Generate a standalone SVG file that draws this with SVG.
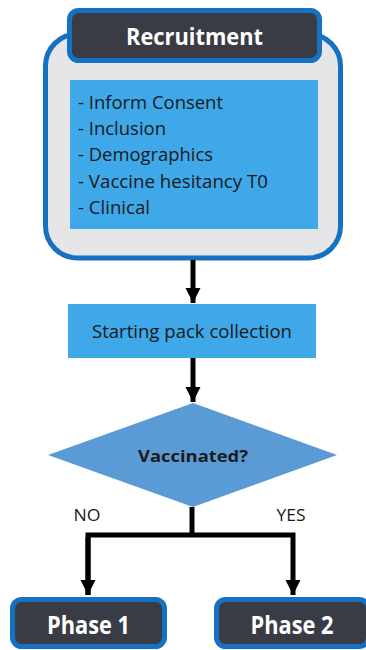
<svg xmlns="http://www.w3.org/2000/svg" width="366" height="650" viewBox="0 0 366 650">
<style>
.outer{fill:#e6e6e8;stroke:#1671c1;stroke-width:5}
.dark{fill:#393c44;stroke:#1671c1;stroke-width:5}
.lb{fill:#3ea8e9}
.dia{fill:#5b9bd5}
.t{font-family:"Open Sans","Noto Sans",sans-serif;fill:#1a1a1a}
.w{font-family:"Open Sans","Noto Sans",sans-serif;fill:#ffffff;font-weight:bold}
.ln{fill:none;stroke:#000;stroke-width:5}
</style>
<defs>
<marker id="ah" viewBox="0 0 10 10" refX="10" refY="5" markerWidth="3" markerHeight="3.2" orient="auto" markerUnits="strokeWidth">
<path d="M0,0 L10,5 L0,10 z" fill="#000"/>
</marker>
</defs>
<g id="recruitment">
<rect class="outer" x="45.5" y="34" width="295" height="224" rx="32"/>
<rect class="dark" x="69.5" y="10.5" width="250" height="50" rx="9"/>
<text class="w" x="194.5" y="45" font-size="24" text-anchor="middle" textLength="137" lengthAdjust="spacingAndGlyphs">Recruitment</text>
<rect class="lb" x="70" y="80" width="248" height="149"/>
<text class="t" font-size="18.5">
<tspan x="78" y="108.5" textLength="145" lengthAdjust="spacingAndGlyphs">- Inform Consent</tspan>
<tspan x="78" y="135" textLength="88" lengthAdjust="spacingAndGlyphs">- Inclusion</tspan>
<tspan x="78" y="161" textLength="135" lengthAdjust="spacingAndGlyphs">- Demographics</tspan>
<tspan x="78" y="187.5" textLength="190" lengthAdjust="spacingAndGlyphs">- Vaccine hesitancy T0</tspan>
<tspan x="78" y="213.5" textLength="72" lengthAdjust="spacingAndGlyphs">- Clinical</tspan>
</text>
</g>
<g id="starting">
<rect class="lb" x="68" y="304" width="248" height="54"/>
<text class="t" x="192" y="338" font-size="18.5" text-anchor="middle" textLength="200" lengthAdjust="spacingAndGlyphs">Starting pack collection</text>
</g>
<g id="vaccinated">
<polygon class="dia" points="193,403 337,455 193,507 48,455"/>
<text class="t" x="193" y="462" font-size="16.5" font-weight="bold" text-anchor="middle" textLength="110" lengthAdjust="spacingAndGlyphs">Vaccinated?</text>
</g>
<g id="phase1">
<rect class="dark" x="12.5" y="599.5" width="152" height="47" rx="9"/>
<text class="w" x="88.5" y="633.5" font-size="25" text-anchor="middle" textLength="83" lengthAdjust="spacingAndGlyphs">Phase 1</text>
</g>
<g id="phase2">
<rect class="dark" x="216.5" y="599.5" width="152" height="47" rx="9"/>
<text class="w" x="292" y="633.5" font-size="25" text-anchor="middle" textLength="83" lengthAdjust="spacingAndGlyphs">Phase 2</text>
</g>
<g id="connectors">
<line class="ln" x1="193" y1="260" x2="193" y2="303" marker-end="url(#ah)"/>
<line class="ln" x1="193" y1="358" x2="193" y2="402" marker-end="url(#ah)"/>
<polyline class="ln" points="192,507 192,535"/>
<polyline class="ln" points="88,595 88,535 293,535 293,595" marker-end="url(#ah)"/>
<line class="ln" x1="88" y1="537" x2="88" y2="595" marker-end="url(#ah)"/>
<text class="t" x="87" y="520.5" font-size="16.5" text-anchor="middle" textLength="27" lengthAdjust="spacingAndGlyphs">NO</text>
<text class="t" x="291" y="520.5" font-size="16.5" text-anchor="middle" textLength="29" lengthAdjust="spacingAndGlyphs">YES</text>
</g>
</svg>
